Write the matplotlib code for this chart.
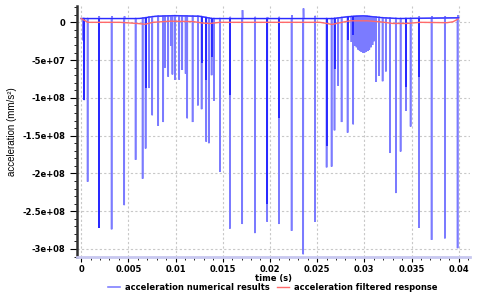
import numpy as np
import matplotlib
matplotlib.use("Agg")
import matplotlib.pyplot as plt
from matplotlib.ticker import MultipleLocator

# ---------------- data ----------------
# impact spikes of the numerical acceleration (time s, min value mm/s^2)
spike_t = [0.000222, 0.000328, 0.000689, 0.001886, 0.003231, 0.004566, 0.005773,
           0.006515, 0.006833, 0.007182, 0.007532, 0.008167, 0.008697, 0.008877,
           0.009227, 0.009513, 0.009672, 0.009936, 0.010392, 0.010710, 0.011070,
           0.011239, 0.011811, 0.012373, 0.012765, 0.013256, 0.013538, 0.013824,
           0.014068, 0.014703, 0.015763, 0.017066, 0.018411, 0.019714, 0.020953,
           0.022299, 0.023528, 0.024767, 0.026006, 0.026536, 0.026843, 0.027235,
           0.027595, 0.028231, 0.028633, 0.028824, 0.029004, 0.029174, 0.029343,
           0.029513, 0.029682, 0.029852, 0.030021, 0.030191, 0.030360, 0.030530,
           0.030699, 0.030869, 0.031038, 0.031229, 0.031578, 0.031939, 0.032288,
           0.032712, 0.033347, 0.033845, 0.034407, 0.034905, 0.035784, 0.037129,
           0.038538, 0.039883]
spike_v = [-0.24e8, -1.03e8, -2.11e8, -2.72e8, -2.74e8, -2.42e8, -1.82e8,
           -2.07e8, -1.67e8, -0.87e8, -1.23e8, -1.37e8, -1.32e8, -0.60e8,
           -0.72e8, -0.31e8, -0.69e8, -0.76e8, -0.76e8, -0.63e8, -0.68e8,
           -1.27e8, -1.32e8, -1.10e8, -1.15e8, -1.58e8, -1.60e8, -0.70e8,
           -1.04e8, -1.98e8, -2.73e8, -2.67e8, -2.79e8, -2.64e8, -2.67e8,
           -2.76e8, -3.07e8, -2.64e8, -1.92e8, -1.91e8, -1.43e8, -0.84e8,
           -1.32e8, -1.46e8, -0.26e8, -1.35e8, -0.31e8, -0.33e8, -0.36e8,
           -0.38e8, -0.39e8, -0.40e8, -0.40e8, -0.39e8, -0.38e8, -0.36e8,
           -0.33e8, -0.30e8, -0.25e8, -0.79e8, -0.71e8, -0.78e8, -0.65e8,
           -1.73e8, -2.26e8, -1.71e8, -1.17e8, -1.38e8, -2.72e8, -2.88e8,
           -2.86e8, -2.99e8]
# darker (overlapping) part of some spikes
dark_t = [0.000328, 0.001886, 0.006833, 0.012765, 0.013256, 0.013824, 0.015763,
          0.019714, 0.020953, 0.026006, 0.026843, 0.028231, 0.028824, 0.034407,
          0.035784]
dark_v = [-1.03e8, -2.72e8, -0.87e8, -0.54e8, -0.76e8, -0.46e8, -0.96e8,
          -2.40e8, -1.27e8, -1.64e8, -0.62e8, -0.24e8, -0.17e8, -0.85e8,
          -0.72e8]
# small upward rebounds after impacts
blip_t = [0.001916, 0.003261, 0.004596, 0.015793, 0.017096, 0.018441, 0.019744,
          0.020983, 0.022329, 0.023558, 0.024797, 0.035814, 0.037159, 0.038568,
          0.039913]
blip_v = [0.082e8, 0.08e8, 0.08e8, 0.073e8, 0.161e8, 0.073e8, 0.07e8,
          0.073e8, 0.095e8, 0.184e8, 0.086e8, 0.08e8, 0.08e8, 0.08e8, 0.095e8]
# slowly varying level of the numerical signal between impacts
base_t = [0.0, 0.00623, 0.00782, 0.00994, 0.01258, 0.01386, 0.02671, 0.02831,
          0.02989, 0.03201, 0.03360, 0.04]
base_v = [0.05e8, 0.05e8, 0.08e8, 0.088e8, 0.08e8, 0.05e8, 0.05e8, 0.075e8,
          0.085e8, 0.06e8, 0.05e8, 0.06e8]
# filtered response
filt_t = [0.0, 0.00072, 0.00411, 0.00591, 0.00676, 0.00761, 0.00941, 0.01184,
          0.01290, 0.01364, 0.01470, 0.02106, 0.02530, 0.02604, 0.02657, 0.02742,
          0.02848, 0.03028, 0.03165, 0.03303, 0.03451, 0.03589, 0.03875, 0.03939,
          0.03992]
filt_v = [0.5e7, 0.0, 0.0, -0.15e7, -0.25e7, 0.0, 0.15e7, 0.1e7,
          -0.1e7, -0.15e7, 0.0, 0.0, 0.0, -0.15e7, -0.28e7, -0.05e7,
          0.2e7, 0.2e7, 0.07e7, -0.15e7, -0.15e7, 0.0, -0.05e7, 0.07e7,
          0.42e7]

xticks = [0, 0.005, 0.01, 0.015, 0.02, 0.025, 0.03, 0.035, 0.04]
xticklabels = ["0", "0.005", "0.01", "0.015", "0.02", "0.025", "0.03", "0.035", "0.04"]
yticks = [0, -5e7, -1e8, -1.5e8, -2e8, -2.5e8, -3e8]
yticklabels = ["0", "-5e+07", "-1e+08", "-1.5e+08", "-2e+08", "-2.5e+08", "-3e+08"]

# ------------- build numerical series path -------------
w = 0.000015
events = []
for t, v in zip(spike_t, spike_v):
    events.append((t - w, None))
    events.append((t, v))
    events.append((t + w, None))
for t, v in zip(blip_t, blip_v):
    events.append((t, v))
    events.append((t + 2 * w, None))
events.sort(key=lambda e: e[0])
num_t = [base_t[0]]
num_v = [base_v[0]]
for t, v in events:
    b = float(np.interp(t, base_t, base_v))
    num_t.append(t)
    num_v.append(b if v is None else v)
num_t.append(base_t[-1])
num_v.append(base_v[-1])

# ---------------- plot ----------------
fig = plt.figure(figsize=(4.81, 2.93), dpi=100)
ax = fig.add_axes([0.161, 0.123, 0.816, 0.856])

light_blue = "#7b7bff"
ax.plot(num_t, num_v, color=light_blue, lw=1.15, label="acceleration numerical results",
        zorder=3, solid_joinstyle="miter")
dark_base = [float(np.interp(t, base_t, base_v)) for t in dark_t]
ax.vlines(dark_t, dark_base, dark_v, color="#1010ff", lw=1.1, zorder=4)
ax.plot(base_t, base_v, color="#2a2aff", lw=0.8, zorder=4)
ax.plot(filt_t, filt_v, color="#ff6a6a", lw=1.0, label="acceleration filtered response",
        zorder=5)

ax.set_xlim(-0.00039, 0.04119)
ax.set_ylim(-3.106e8, 0.214e8)

ax.set_xticks(xticks)
ax.set_xticklabels(xticklabels)
ax.set_yticks(yticks)
ax.set_yticklabels(yticklabels)
ax.xaxis.set_minor_locator(MultipleLocator(0.001))
ax.yaxis.set_minor_locator(MultipleLocator(1e7))

for lab in ax.get_xticklabels() + ax.get_yticklabels():
    lab.set_fontweight("bold")
    lab.set_fontsize(6)
    lab.set_family("DejaVu Sans")

ax.tick_params(axis="y", which="major", length=5, width=0.8, pad=4, direction="out")
ax.tick_params(axis="y", which="minor", length=2.5, width=0.6, direction="out")
ax.tick_params(axis="x", which="major", length=3.5, width=0.8, pad=2, direction="out")
ax.tick_params(axis="x", which="minor", length=2, width=0.6, direction="out")

ax.grid(True, which="major", color="#c8c8c8", lw=0.8, linestyle=(0, (2, 2)))

for s in ["top", "right"]:
    ax.spines[s].set_visible(False)
ax.spines["left"].set_color("#303030")
ax.spines["left"].set_linewidth(1.8)
ax.spines["bottom"].set_color("#c8c8f0")
ax.spines["bottom"].set_linewidth(2.0)

ax.set_xlabel("time (s)", fontsize=6, fontweight="bold", labelpad=0)
ax.set_ylabel("acceleration (mm/s²)", fontsize=7, family="Liberation Sans", labelpad=4)

leg = fig.legend(loc="center", bbox_to_anchor=(0.567, 0.020), ncol=2, frameon=False,
                 prop={"size": 6, "weight": "bold"}, handlelength=1.4,
                 handletextpad=0.6, columnspacing=0.9, borderpad=0, borderaxespad=0)

fig.savefig("out.png", dpi=100)
